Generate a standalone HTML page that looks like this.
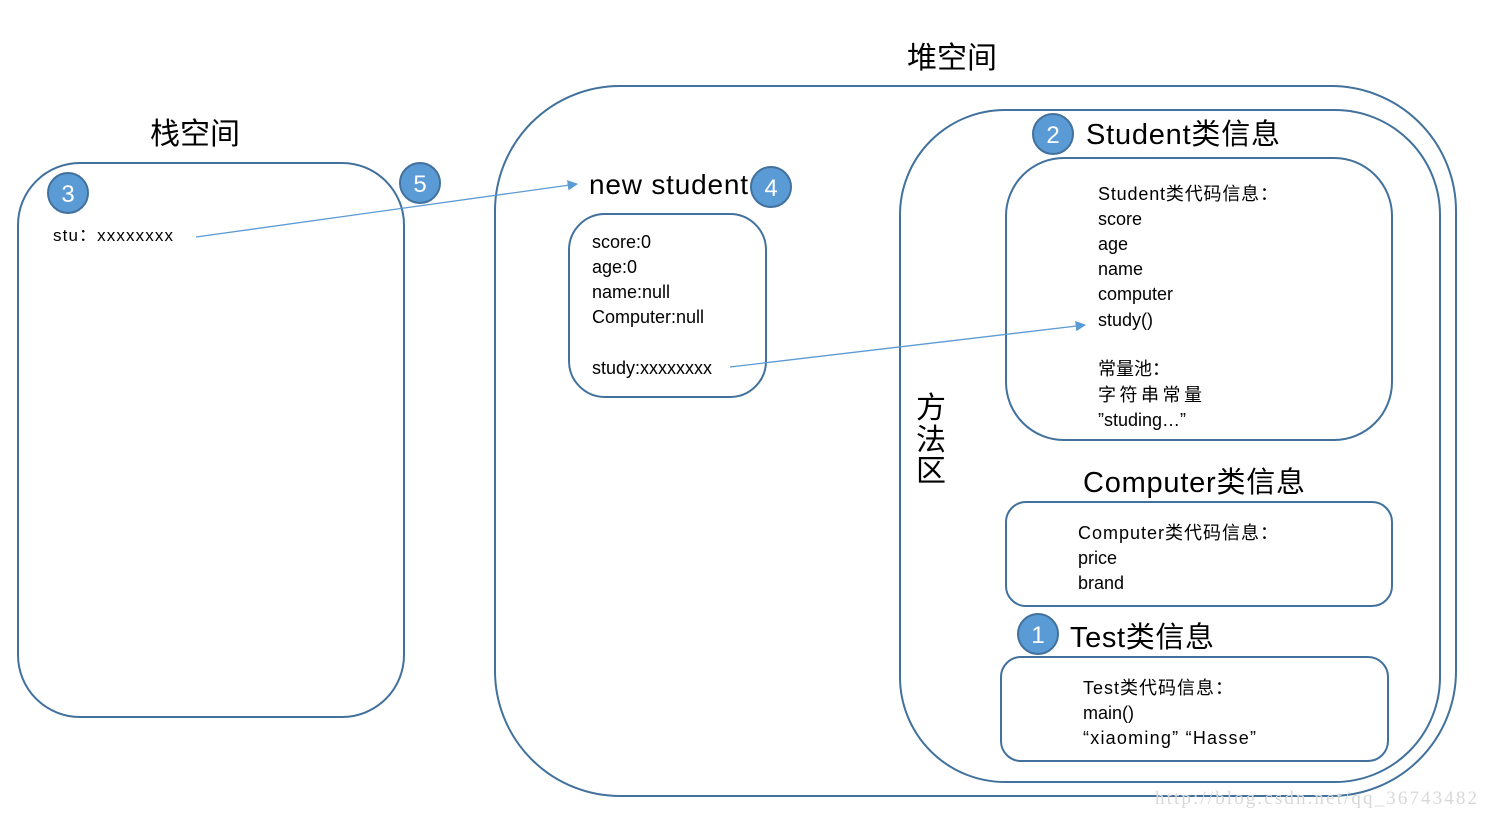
<!DOCTYPE html>
<html><head><meta charset="utf-8"><style>
html,body{margin:0;padding:0;background:#fff;width:1488px;height:818px;overflow:hidden}
svg text{font-family:"Liberation Sans","Noto Sans CJK SC",sans-serif;fill:#000}
</style></head><body>
<svg width="1488" height="818" viewBox="0 0 1488 818" xmlns="http://www.w3.org/2000/svg">
<defs><marker id="a" viewBox="0 0 10 10" refX="9" refY="5" markerWidth="8" markerHeight="8" orient="auto"><path d="M0,0L10,5L0,10z" fill="#5b9bd5"/></marker></defs>
<g fill="none" stroke="#41719c" stroke-width="2">
<rect x="18" y="163" width="386" height="554" rx="62"/>
<rect x="495" y="86" width="961" height="710" rx="125"/>
<rect x="900" y="110" width="540" height="672" rx="105"/>
<rect x="1006" y="158" width="386" height="282" rx="58"/>
<rect x="1006" y="502" width="386" height="104" rx="20"/>
<rect x="1001" y="657" width="387" height="104" rx="20"/>
<rect x="569" y="214" width="197" height="183" rx="36"/>
</g>
<g stroke="#5b9bd5" stroke-width="1.3" marker-end="url(#a)">
<line x1="196" y1="237" x2="577" y2="184"/>
<line x1="730" y1="367" x2="1085" y2="325"/>
</g>
<g fill="#5b9bd5" stroke="#41719c" stroke-width="2">
<circle cx="68" cy="193" r="20"/><circle cx="420" cy="183" r="20"/><circle cx="771" cy="187" r="20"/><circle cx="1053" cy="134" r="20"/><circle cx="1038" cy="634" r="20"/>
</g>
<g font-size="24" text-anchor="middle">
<text x="68" y="202" style="fill:#fff">3</text><text x="420" y="192" style="fill:#fff">5</text><text x="771" y="196" style="fill:#fff">4</text><text x="1053" y="143" style="fill:#fff">2</text><text x="1038" y="643" style="fill:#fff">1</text>
</g>
<text x="150" y="144" font-size="30">栈空间</text>
<text x="907" y="68" font-size="30">堆空间</text>
<text x="53" y="241" font-size="17" textLength="120">stu：xxxxxxxx</text>
<text x="589" y="194" font-size="28" textLength="159">new student</text>
<g font-size="18"><text x="592" y="248">score:0</text><text x="592" y="273">age:0</text><text x="592" y="298">name:null</text><text x="592" y="323">Computer:null</text><text x="592" y="374">study:xxxxxxxx</text></g>
<text x="1086" y="144" font-size="29" textLength="194">Student类信息</text>
<g font-size="18"><text x="1098" y="200" textLength="180">Student类代码信息：</text><text x="1098" y="225">score</text><text x="1098" y="250">age</text><text x="1098" y="275">name</text><text x="1098" y="300">computer</text><text x="1098" y="326">study()</text><text x="1098" y="375">常量池：</text><text x="1098" y="401" textLength="104">字符串常量</text><text x="1098" y="426">”studing…”</text></g>
<g font-size="30"><text x="916" y="418">方</text><text x="916" y="450">法</text><text x="916" y="481">区</text></g>
<text x="1083" y="492" font-size="29" textLength="222">Computer类信息</text>
<g font-size="18"><text x="1078" y="539" textLength="200">Computer类代码信息：</text><text x="1078" y="564">price</text><text x="1078" y="589">brand</text></g>
<text x="1070" y="647" font-size="29" textLength="144">Test类信息</text>
<g font-size="18"><text x="1083" y="694" textLength="150">Test类代码信息：</text><text x="1083" y="719">main()</text><text x="1083" y="744" textLength="173">“xiaoming” “Hasse”</text></g>
<text x="1155" y="804" font-size="19" textLength="322" style="fill:#d8d8d8;font-family:'Liberation Serif',serif">http://blog.csdn.net/qq_36743482</text>
</svg>
</body></html>
